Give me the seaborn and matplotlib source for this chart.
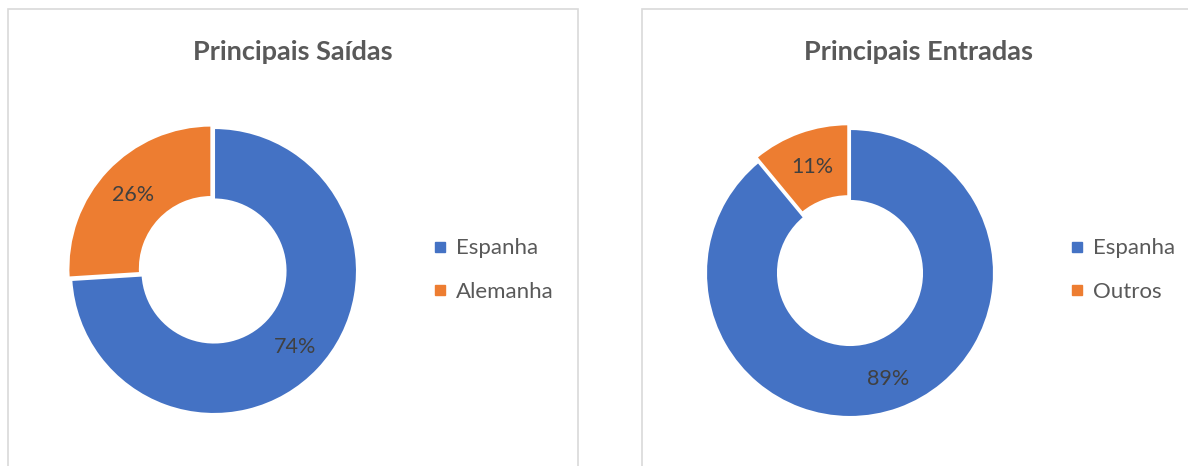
import matplotlib
matplotlib.use("Agg")
import matplotlib.pyplot as plt
from matplotlib.patches import Rectangle
from matplotlib.lines import Line2D
import numpy as np
import seaborn as sns

sns.set_theme(style="white")
plt.rcParams['font.family'] = ['Lato', 'DejaVu Sans']

# Data
titles = ["Principais Saídas", "Principais Entradas"]
left_labels = ["Espanha", "Alemanha"]
left_values = [74, 26]
right_labels = ["Espanha", "Outros"]
right_values = [89, 11]

colors = ["#4472C4", "#ED7D31"]
text_gray = "#595959"
label_gray = "#404040"

W, H = 1188, 466
fig = plt.figure(figsize=(W / 100, H / 100), dpi=100)
fig.patch.set_facecolor("white")

# panel borders
for (x0, x1) in [(8, 578), (642, 1200)]:
    fig.add_artist(Rectangle((x0 / W, -0.1), (x1 - x0) / W, (H - 9) / H + 0.1,
                             transform=fig.transFigure, fill=False,
                             edgecolor="#D9D9D9", linewidth=1.2))

def draw(cx, cy, r, values, labels, title, title_cx, legend_x, explode):
    ax = fig.add_axes([(cx - r) / W, (H - cy - r) / H, 2 * r / W, 2 * r / H])
    ax.pie(values, colors=colors, startangle=90, counterclock=False,
           radius=1.0, explode=explode,
           wedgeprops=dict(width=0.5, edgecolor="white", linewidth=1.5))
    total = sum(values)
    start = 90.0
    for v in values:
        ang = np.deg2rad(start - 360 * v / total / 2)
        rr = 0.78
        ax.text(rr * np.cos(ang), rr * np.sin(ang), f"{round(100 * v / total)}%",
                ha="center", va="center", fontsize=15.5, color=label_gray)
        start -= 360 * v / total
    ax.set_xlim(-1.0, 1.0)
    ax.set_ylim(-1.0, 1.0)
    ax.set_aspect("equal")
    ax.axis("off")
    fig.text(title_cx / W, 1 - 52 / H, title, ha="center", va="center",
             fontsize=19.5, fontweight="bold", color=text_gray)
    handles = [Line2D([0], [0], marker="s", linestyle="none", markersize=7,
                      markerfacecolor=c, markeredgecolor=c) for c in colors]
    fig.legend(handles, labels, loc="center left",
               bbox_to_anchor=(legend_x / W, 1 - 270 / H),
               frameon=False, fontsize=16, labelcolor=text_gray,
               handlelength=0.5, handletextpad=0.5, labelspacing=1.05,
               borderpad=0, borderaxespad=0)

draw(214, 271, 143, left_values, left_labels, titles[0], 293, 434, [0, 0.025])
draw(850, 273, 144, right_values, right_labels, titles[1], 919, 1071, [0, 0.035])

fig.savefig("out.png", dpi=100, facecolor="white")
